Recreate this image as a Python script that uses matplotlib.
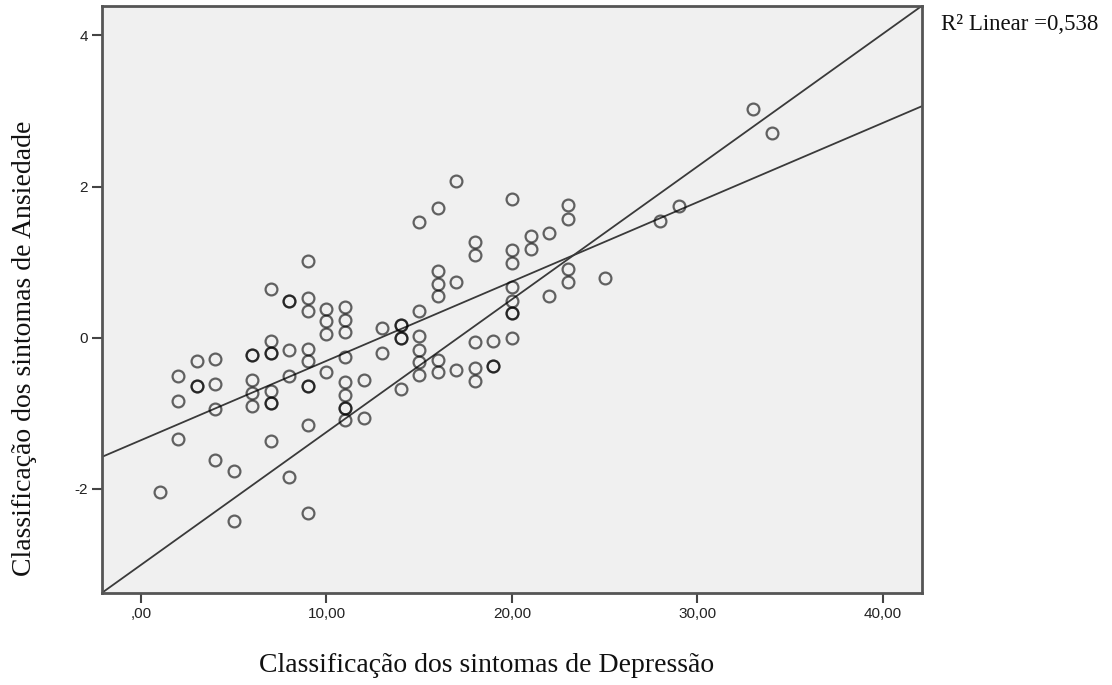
import matplotlib
matplotlib.use("Agg")
import matplotlib.pyplot as plt
import numpy as np

# Data (x = depression score, y = anxiety score)
dep = [1,
       2, 2, 2,
       3, 3, 3,
       4, 4, 4, 4,
       5, 5,
       6, 6, 6, 6, 6,
       7, 7, 7, 7, 7, 7, 7, 7,
       8, 8, 8, 8, 8,
       9, 9, 9, 9, 9, 9, 9, 9, 9,
       10, 10, 10, 10,
       11, 11, 11, 11, 11, 11, 11, 11, 11,
       12, 12,
       13, 13,
       14, 14, 14, 14, 14,
       15, 15, 15, 15, 15, 15,
       16, 16, 16, 16, 16, 16,
       17, 17, 17,
       18, 18, 18, 18, 18,
       19, 19, 19,
       20, 20, 20, 20, 20, 20, 20, 20,
       21, 21,
       22, 22,
       23, 23, 23, 23,
       25, 28, 29, 33, 34]
anx = [-2.04,
       -0.51, -0.84, -1.34,
       -0.31, -0.64, -0.64,
       -0.28, -0.61, -0.95, -1.62,
       -1.76, -2.43,
       -0.23, -0.23, -0.56, -0.73, -0.90,
       0.64, -0.04, -0.20, -0.20, -0.70, -0.86, -0.86, -1.37,
       0.49, 0.49, -0.17, -0.51, -1.84,
       1.02, 0.53, 0.35, -0.15, -0.31, -0.64, -0.64, -1.15, -2.32,
       0.38, 0.22, 0.05, -0.45,
       0.41, 0.24, 0.08, -0.26, -0.59, -0.76, -0.93, -0.93, -1.09,
       -0.56, -1.07,
       0.13, -0.20,
       0.17, 0.17, -0.01, -0.01, -0.68,
       1.53, 0.35, 0.02, -0.16, -0.32, -0.49,
       1.72, 0.88, 0.71, 0.55, -0.29, -0.46,
       2.08, 0.74, -0.43,
       1.27, 1.10, -0.06, -0.40, -0.57,
       -0.04, -0.37, -0.37,
       1.83, 1.16, 0.99, 0.67, 0.49, 0.33, 0.33, -0.01,
       1.35, 1.18,
       1.38, 0.55,
       1.75, 1.57, 0.91, 0.74,
       0.79, 1.54, 1.74, 3.02, 2.71]

fit_intercept = -1.357
fit_slope = 0.105

x_ticks = [0, 10, 20, 30, 40]
x_ticklabels = [",00", "10,00", "20,00", "30,00", "40,00"]
y_ticks = [-2, 0, 2, 4]
y_ticklabels = ["-2", "0", "2", "4"]
xlim = (-2.12, 42.09)
ylim = (-3.38, 4.39)

x_title = "Classificação dos sintomas de Depressão"
y_title = "Classificação dos sintomas de Ansiedade"
r2_text = "R² Linear =0,538"

W, H = 1112, 685
fig = plt.figure(figsize=(W / 100, H / 100), dpi=100)
fig.patch.set_facecolor("white")
ax = fig.add_axes([101.7 / W, 1 - 593 / H, (921.7 - 101.7) / W, (593 - 6) / H])
ax.set_facecolor("#F0F0F0")
ax.set_xlim(*xlim)
ax.set_ylim(*ylim)

line_col = "#3a3a3a"
# diagonal corner-to-corner line
ax.plot([0, 1], [0, 1], transform=ax.transAxes, color=line_col, lw=1.3, zorder=2)
# fit line
xs = np.array(xlim)
ax.plot(xs, fit_intercept + fit_slope * xs, color=line_col, lw=1.3, zorder=2)

ax.plot(dep, anx, linestyle="none", marker="o", markersize=8.5,
        markerfacecolor="none", markeredgecolor=(0, 0, 0, 0.6),
        markeredgewidth=1.6, zorder=3)

for s in ax.spines.values():
    s.set_color("#555555")
    s.set_linewidth(2.0)

ax.set_xticks(x_ticks)
ax.set_xticklabels(x_ticklabels, fontfamily="Liberation Sans", fontsize=11, color="#222222")
ax.set_yticks(y_ticks)
ax.set_yticklabels(y_ticklabels, fontfamily="Liberation Sans", fontsize=11, color="#222222")
ax.tick_params(axis="both", length=7, width=1.5, color="#444444", direction="out", pad=3)

fig.text(487 / W, 1 - 665 / H, x_title, fontfamily="Liberation Serif", fontsize=20,
         ha="center", va="center", color="#111111")
fig.text(25 / W, 1 - 348 / H, y_title, fontfamily="Liberation Serif", fontsize=20,
         ha="center", va="center", rotation=90, color="#111111")
fig.text(941 / W, 1 - 24 / H, r2_text, fontfamily="Liberation Serif", fontsize=16.5,
         ha="left", va="center", color="#111111")

fig.savefig("out.png", dpi=100)
